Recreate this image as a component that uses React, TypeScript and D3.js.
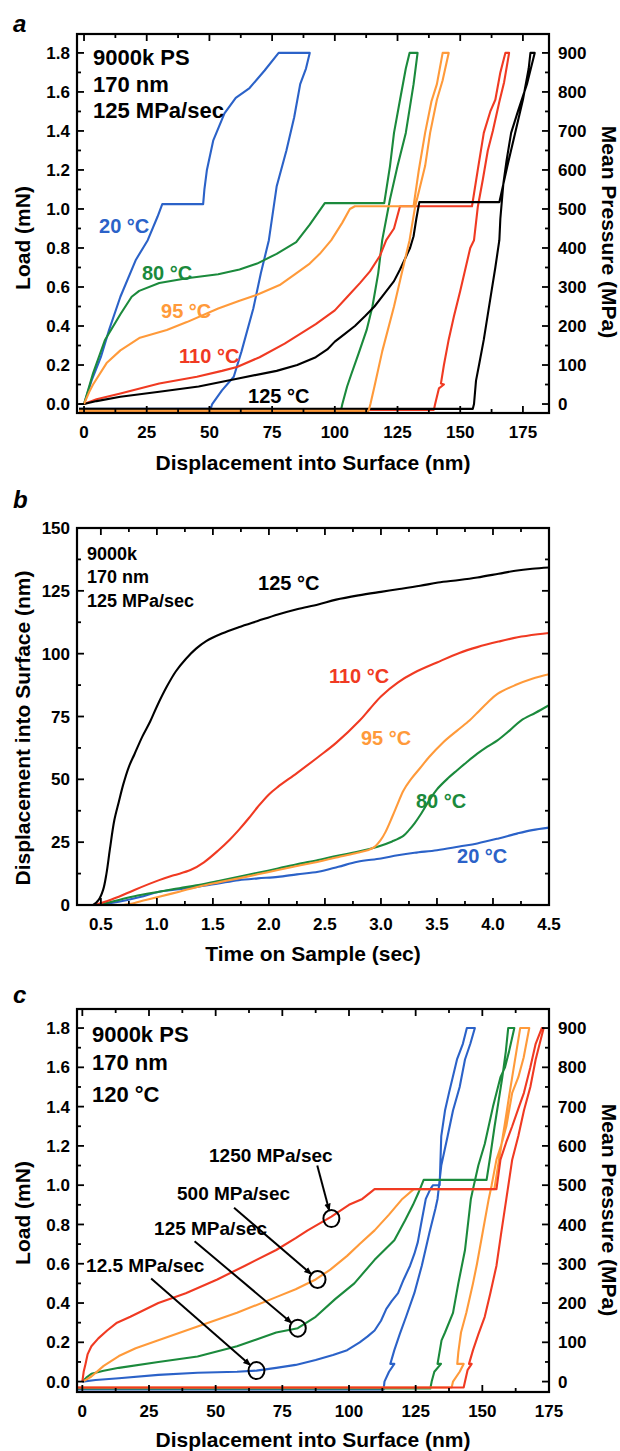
import React from 'react';
import * as d3 from 'd3';

type P = [number, number];

// ---------- Panel a: load (mN) vs displacement (nm), 125 MPa/sec ----------
const a20C: P[] = [[0,0],[3,0.12],[6.7,0.24],[10,0.38],[14.5,0.55],[20.7,0.74],[25.4,0.84],[29.3,0.96],[31.2,1.025],[47.5,1.025],[48,1.1],[49,1.2],[51.5,1.35],[56,1.49],[60.5,1.57],[66,1.62],[72,1.71],[77.6,1.8],[90,1.8],[88.5,1.72],[86.2,1.64],[83.8,1.47],[80.7,1.3],[76.8,1.115],[73.7,0.84],[70.5,0.67],[67.5,0.49],[62.8,0.27],[59.7,0.14],[55,0.07],[51.1,0],[50.5,-0.025],[-2,-0.025]];
const a80C: P[] = [[0,0],[3.6,0.157],[8.3,0.327],[14.5,0.46],[19,0.55],[22,0.58],[30,0.62],[41,0.645],[53.5,0.665],[62,0.69],[69,0.72],[76.8,0.77],[84.6,0.83],[90,0.92],[96,1.03],[119.7,1.03],[122,1.22],[123.6,1.39],[126,1.56],[128.3,1.72],[129.8,1.8],[133,1.8],[131.4,1.64],[128.3,1.39],[125,1.22],[122,1.05],[118.9,0.84],[117.3,0.67],[115,0.5],[112.7,0.38],[109.5,0.26],[106.5,0.15],[104.9,0.09],[103,0],[102.5,-0.03],[-2,-0.03]];
const a95C: P[] = [[0,0],[2,0.06],[3.6,0.1],[9,0.21],[14.5,0.275],[22.3,0.34],[33,0.38],[41,0.42],[53.5,0.49],[62,0.53],[69,0.56],[78,0.61],[84.6,0.67],[90,0.72],[94,0.77],[98.6,0.84],[103,0.93],[106,1.0],[108,1.014],[131.4,1.014],[133.5,1.2],[136,1.39],[138.5,1.55],[140.7,1.64],[143,1.8],[145.4,1.8],[143,1.66],[140.7,1.56],[138,1.39],[136,1.22],[132,1.01],[129.8,0.84],[126.5,0.66],[123.6,0.5],[118.9,0.27],[115.8,0.09],[114.2,0],[113.5,-0.035],[-2,-0.035]];
const a110C: P[] = [[0,0],[5,0.025],[14.5,0.054],[30,0.105],[45,0.14],[55,0.17],[61,0.19],[70,0.24],[80,0.31],[92.4,0.41],[100,0.48],[105,0.55],[110,0.62],[114,0.68],[118,0.76],[120.5,0.84],[123.6,0.9],[126,1.014],[154.7,1.014],[157,1.2],[159.4,1.39],[162,1.5],[164,1.56],[166,1.7],[168,1.8],[169.5,1.8],[167.5,1.65],[165.6,1.55],[163,1.4],[161,1.3],[159,1.15],[157,1.01],[155.5,0.84],[154,0.8],[150,0.58],[147.5,0.45],[145.4,0.33],[143.5,0.2],[142.3,0.105],[143.5,0.1],[141.5,0.08],[140,0],[139.5,-0.03],[-2,-0.03]];
const a125C: P[] = [[-2,0],[0,0],[5,0.015],[14.5,0.037],[30,0.063],[45.7,0.09],[61,0.13],[76.8,0.17],[85,0.2],[92.4,0.24],[97,0.28],[100,0.32],[104,0.36],[108,0.4],[112,0.45],[115.8,0.5],[120,0.57],[123.6,0.63],[126,0.69],[128.2,0.75],[130,0.8],[131.4,0.86],[132.5,0.95],[133.7,1.035],[165.6,1.035],[168.8,1.22],[171.9,1.39],[175,1.56],[177.3,1.72],[178,1.8],[179.7,1.8],[176.6,1.64],[173,1.5],[170.3,1.39],[168.5,1.25],[167.2,1.13],[166,0.95],[165.6,0.84],[164,0.7],[162.5,0.58],[159.4,0.33],[157.5,0.2],[156.3,0.12],[155.5,0],[155,-0.025],[-2,-0.025]];

const aXTicks = [0, 25, 50, 75, 100, 125, 150, 175];
const aYTicks = [0, 0.2, 0.4, 0.6, 0.8, 1.0, 1.2, 1.4, 1.6, 1.8];
const pressureTicks = [0, 100, 200, 300, 400, 500, 600, 700, 800, 900];

// ---------- Panel b: displacement (nm) vs time (s) ----------
const b125C: P[] = [[0.287,0],[0.43,0],[0.48,2],[0.52,6],[0.55,12.5],[0.58,22],[0.62,33.7],[0.66,41],[0.7,48],[0.75,55],[0.8,60],[0.87,67],[0.94,73],[1.0,79],[1.09,87],[1.17,93],[1.26,98],[1.35,102],[1.44,105],[1.58,108],[1.73,110.5],[1.9,113],[2.08,115.6],[2.25,117.7],[2.44,119.6],[2.6,121.5],[2.8,123.2],[3.0,124.6],[3.15,125.6],[3.35,127],[3.51,128.3],[3.7,129.3],[3.86,130.3],[4.05,131.8],[4.2,133],[4.35,133.8],[4.5,134.3]];
const b110C: P[] = [[0.45,0],[0.55,1.5],[0.66,3.3],[0.8,6],[1.02,9.9],[1.15,11.8],[1.3,13.9],[1.42,17],[1.55,21.8],[1.65,26],[1.73,29.8],[1.82,34.5],[1.9,39],[2.0,44],[2.08,47],[2.25,52.5],[2.44,58.9],[2.6,64.5],[2.81,73.4],[2.9,78],[3.0,83],[3.15,88.5],[3.3,92.5],[3.5,96.5],[3.7,100.3],[3.86,102.6],[4.05,104.8],[4.22,106.5],[4.4,107.7],[4.5,108.2]];
const b95C: P[] = [[0.7,0],[0.77,0.5],[0.9,2],[1.02,3.3],[1.2,5.3],[1.37,7.3],[1.55,9],[1.73,10.6],[1.9,12.2],[2.08,13.9],[2.25,15.5],[2.44,17.2],[2.6,18.9],[2.79,20.8],[2.88,21.8],[2.94,23],[3.0,26],[3.04,29],[3.1,35],[3.15,40.3],[3.2,45.5],[3.26,49.6],[3.35,54.5],[3.43,58.9],[3.55,64.5],[3.68,69.4],[3.79,73.4],[3.86,76.5],[3.95,80.5],[4.04,84],[4.2,87.5],[4.35,90],[4.5,91.8]];
const b80C: P[] = [[0.48,0],[0.55,0.8],[0.66,2],[0.8,3.5],[1.02,5.3],[1.2,6.7],[1.37,7.9],[1.55,9.5],[1.73,11.2],[1.9,12.8],[2.08,14.5],[2.25,16.2],[2.44,17.9],[2.6,19.5],[2.79,21.2],[2.97,23.2],[3.1,25.3],[3.2,27.5],[3.25,29.8],[3.3,32.5],[3.36,36.4],[3.43,41.5],[3.5,46],[3.6,50.5],[3.68,53.6],[3.77,57],[3.86,60.2],[3.95,63],[4.04,65.5],[4.15,69.5],[4.25,73.4],[4.38,76.5],[4.5,79.5]];
const b20C: P[] = [[0.45,0],[0.55,0.5],[0.66,1.3],[0.85,3.2],[1.02,5.3],[1.2,6.3],[1.37,7.3],[1.55,8.6],[1.73,9.9],[1.9,10.6],[2.08,11.2],[2.25,12.2],[2.44,13.2],[2.62,15.2],[2.79,17.2],[3.0,18.5],[3.15,19.8],[3.3,20.8],[3.5,21.8],[3.7,23.3],[3.86,24.5],[4.05,26.5],[4.22,28.5],[4.35,29.8],[4.5,30.8]];

const bXTicks = [0.5, 1.0, 1.5, 2.0, 2.5, 3.0, 3.5, 4.0, 4.5];
const bYTicks = [0, 25, 50, 75, 100, 125, 150];

// ---------- Panel c: load (mN) vs displacement (nm), 120 °C ----------
const c1250: P[] = [[0,0],[0.5,0.05],[1.2,0.09],[2,0.14],[3.4,0.18],[6,0.22],[9.3,0.26],[13,0.3],[18,0.33],[28.5,0.4],[38.8,0.45],[50.6,0.52],[61,0.59],[72.7,0.67],[80,0.73],[84.5,0.77],[93.4,0.84],[100,0.9],[105,0.93],[109.6,0.98],[155.3,0.98],[156.8,1.13],[159,1.22],[161.2,1.3],[163.5,1.39],[165.6,1.47],[168,1.6],[170,1.72],[172.3,1.8],[173,1.8],[171.5,1.72],[170,1.64],[168,1.5],[165.6,1.38],[163.5,1.25],[161.2,1.13],[159,0.93],[157,0.75],[155.3,0.59],[153,0.45],[150.9,0.33],[148.5,0.24],[146.5,0.16],[145,0.09],[146,0.09],[144.5,0.06],[143.5,0],[143,-0.03],[-2,-0.03]];
const c500: P[] = [[0,0],[1.5,0.01],[3.4,0.026],[8,0.08],[13.7,0.13],[20,0.17],[28.5,0.21],[43.2,0.28],[58,0.35],[72.7,0.43],[80,0.47],[87.5,0.52],[93,0.57],[99.3,0.64],[104,0.7],[109.6,0.77],[115,0.85],[120,0.93],[124.3,0.98],[154.5,0.98],[156.5,1.15],[158.3,1.3],[160,1.45],[161.2,1.55],[163,1.7],[164.2,1.8],[167.6,1.8],[165.5,1.65],[163.5,1.55],[161.2,1.47],[159,1.3],[157,1.2],[155.3,1.13],[153.5,1.0],[152.4,0.93],[150,0.75],[148,0.6],[146.5,0.5],[144,0.35],[142,0.25],[141,0.15],[140.6,0.09],[143,0.09],[141.5,0.05],[139,0],[138.5,-0.03],[-2,-0.03]];
const c125: P[] = [[0,0],[1.5,0.02],[3.4,0.04],[8,0.055],[13.7,0.07],[28.5,0.1],[43.2,0.128],[58,0.18],[72.7,0.25],[80.8,0.272],[87.5,0.33],[94.8,0.42],[102,0.5],[109.6,0.62],[117,0.72],[121,0.82],[124,0.9],[126,0.96],[128,1.027],[151.6,1.027],[153,1.15],[154.6,1.3],[156,1.42],[157.5,1.55],[158.8,1.68],[159.7,1.8],[162,1.8],[160,1.68],[158.5,1.6],[156.8,1.55],[154,1.4],[150.9,1.21],[148.5,1.1],[146.5,0.98],[145.7,0.93],[143.5,0.67],[141,0.5],[139,0.35],[136,0.25],[134.7,0.21],[133.2,0.09],[134.5,0.09],[132,0.05],[131,0],[130.5,-0.035],[-2,-0.035]];
const c12_5: P[] = [[0,0],[5,0.008],[13.7,0.017],[28.5,0.034],[43.2,0.045],[58,0.05],[65.3,0.056],[72.7,0.07],[80,0.085],[87.5,0.11],[94,0.135],[99.3,0.16],[104,0.2],[107,0.23],[109.6,0.26],[112,0.31],[114,0.37],[116,0.41],[118.4,0.45],[120.5,0.52],[122.9,0.59],[124.5,0.65],[125.8,0.71],[127,0.8],[128.8,0.93],[130.5,0.98],[131.5,1.0],[134,1.0],[134.6,1.25],[136,1.38],[137.5,1.47],[140.5,1.64],[142.7,1.72],[144.2,1.8],[147.2,1.8],[145.5,1.72],[143.5,1.64],[141.5,1.5],[139,1.38],[137,1.25],[134.6,1.1],[133.2,0.93],[132.4,0.88],[130.2,0.76],[127.3,0.59],[124.5,0.45],[121.4,0.33],[119,0.24],[117,0.16],[115.5,0.09],[117,0.09],[115,0.05],[113.3,0],[113,-0.04],[-2,-0.04]];

const cXTicks = [0, 25, 50, 75, 100, 125, 150, 175];

// annotation circles (data coords) and arrow start points
const cCircles: P[] = [[93.4, 0.83], [88.2, 0.52], [80.8, 0.272], [65.3, 0.056]];
const cArrowStarts: P[] = [[88.1, 1.1], [56.9, 0.885], [42.1, 0.715], [25.8, 0.525]];

const BLUE = '#2b62c8';
const GREEN = '#1b8a3c';
const ORANGE = '#ff9a3a';
const RED = '#f03a22';
const BLACK = '#000000';

const FONT = "'Liberation Sans', Arial, Helvetica, sans-serif";
const TICK_FS = 17;
const TITLE_FS = 21;

interface Series { data: P[]; color: string }
interface TextItem { text: string; at: P; color?: string; size?: number }

interface PanelProps {
  letter: string;
  letterY: number;
  top: number;
  bottom: number;
  xDomain: [number, number];
  yDomain: [number, number];
  xTicks: number[];
  xMinorStep: number;
  xFmt: (v: number) => string;
  yTicks: number[];
  yMinorStep: number;
  yFmt: (v: number) => string;
  rightTicks?: number[];
  rightFactor?: number;
  smooth?: boolean;
  series: Series[];
  texts: TextItem[];
  xTitle: string;
  xTitleY: number;
  yTitle: string;
  yTitleCenter: number;
  rightTitle?: string;
  rightTitleCenter?: number;
  children?: (x: d3.ScaleLinear<number, number>, y: d3.ScaleLinear<number, number>) => React.ReactNode;
}

const LEFT = 77;
const RIGHT = 549;

function minors(majors: number[], step: number, dom: [number, number]): number[] {
  const out: number[] = [];
  const lo = Math.min(...majors) - step;
  const hi = Math.max(...majors) + step;
  for (let v = lo; v <= hi + 1e-9; v += step) {
    const isMajor = majors.some((m) => Math.abs(m - v) < 1e-6);
    if (!isMajor && v > dom[0] && v < dom[1]) out.push(v);
  }
  return out;
}

function Panel(p: PanelProps) {
  const x = d3.scaleLinear().domain(p.xDomain).range([LEFT, RIGHT]);
  const y = d3.scaleLinear().domain(p.yDomain).range([p.bottom, p.top]);
  const line = d3.line<P>().x((d) => x(d[0])).y((d) => y(d[1]))
    .curve(p.smooth ? d3.curveCatmullRom.alpha(0.5) : d3.curveLinear);
  const xMin = minors(p.xTicks, p.xMinorStep, p.xDomain);
  const yMin = minors(p.yTicks, p.yMinorStep, p.yDomain);
  const MAJ = 7, MIN = 4;
  const tickSW = 1.8;
  const xTickLabelY = p.bottom + 25;
  const midX = (LEFT + RIGHT) / 2;
  return (
    <g>
      <clipPath id={'clip-' + p.letter}>
        <rect x={LEFT} y={p.top} width={RIGHT - LEFT} height={p.bottom - p.top} />
      </clipPath>
      <text x={13} y={p.letterY} fontFamily={FONT} fontWeight="bold" fontStyle="italic" fontSize={24}>{p.letter}</text>
      <g clipPath={`url(#clip-${p.letter})`}>
        {p.series.map((s, i) => (
          <path key={i} d={line(s.data) || ''} fill="none" stroke={s.color} strokeWidth={2.1} strokeLinejoin="round" />
        ))}
      </g>
      <rect x={LEFT} y={p.top} width={RIGHT - LEFT} height={p.bottom - p.top} fill="none" stroke="#000" strokeWidth={2.2} />
      {p.xTicks.map((v) => (
        <g key={'xt' + v}>
          <line x1={x(v)} x2={x(v)} y1={p.bottom} y2={p.bottom - MAJ} stroke="#000" strokeWidth={tickSW} />
          <line x1={x(v)} x2={x(v)} y1={p.top} y2={p.top + MAJ} stroke="#000" strokeWidth={tickSW} />
          <text x={x(v)} y={xTickLabelY} textAnchor="middle" fontFamily={FONT} fontWeight="bold" fontSize={TICK_FS}>{p.xFmt(v)}</text>
        </g>
      ))}
      {xMin.map((v) => (
        <g key={'xm' + v}>
          <line x1={x(v)} x2={x(v)} y1={p.bottom} y2={p.bottom - MIN} stroke="#000" strokeWidth={tickSW} />
          <line x1={x(v)} x2={x(v)} y1={p.top} y2={p.top + MIN} stroke="#000" strokeWidth={tickSW} />
        </g>
      ))}
      {p.yTicks.map((v) => (
        <g key={'yt' + v}>
          <line x1={LEFT} x2={LEFT + MAJ} y1={y(v)} y2={y(v)} stroke="#000" strokeWidth={tickSW} />
          <line x1={RIGHT} x2={RIGHT - MAJ} y1={y(v)} y2={y(v)} stroke="#000" strokeWidth={tickSW} />
          <text x={LEFT - 7} y={y(v)} dy="0.36em" textAnchor="end" fontFamily={FONT} fontWeight="bold" fontSize={TICK_FS}>{p.yFmt(v)}</text>
        </g>
      ))}
      {yMin.map((v) => (
        <g key={'ym' + v}>
          <line x1={LEFT} x2={LEFT + MIN} y1={y(v)} y2={y(v)} stroke="#000" strokeWidth={tickSW} />
          <line x1={RIGHT} x2={RIGHT - MIN} y1={y(v)} y2={y(v)} stroke="#000" strokeWidth={tickSW} />
        </g>
      ))}
      {p.rightTicks && p.rightTicks.map((v) => (
        <text key={'rt' + v} x={RIGHT + 9} y={y(v / (p.rightFactor || 1))} dy="0.36em" textAnchor="start" fontFamily={FONT} fontWeight="bold" fontSize={TICK_FS}>{v}</text>
      ))}
      <text x={midX} y={p.xTitleY} textAnchor="middle" fontFamily={FONT} fontWeight="bold" fontSize={TITLE_FS}>{p.xTitle}</text>
      <text transform={`translate(22,${p.yTitleCenter}) rotate(-90)`} textAnchor="middle" dominantBaseline="central" fontFamily={FONT} fontWeight="bold" fontSize={TITLE_FS}>{p.yTitle}</text>
      {p.rightTitle && (
        <text transform={`translate(609,${p.rightTitleCenter}) rotate(90)`} textAnchor="middle" dominantBaseline="central" fontFamily={FONT} fontWeight="bold" fontSize={TITLE_FS}>{p.rightTitle}</text>
      )}
      {p.texts.map((t, i) => (
        <text key={'tx' + i} x={x(t.at[0])} y={y(t.at[1])} fill={t.color || '#000'} fontFamily={FONT} fontWeight="bold" fontSize={t.size || 20}>{t.text}</text>
      ))}
      {p.children && p.children(x, y)}
    </g>
  );
}

const f1 = d3.format('.1f');
const f0 = (v: number) => String(v);

export default function App() {
  return (
    <div style={{ position: 'absolute', left: 0, top: 0, width: 620, height: 1451, background: '#fff' }}>
      <svg width={620} height={1451} viewBox="0 0 620 1451" style={{ display: 'block' }}>
        <defs>
          <marker id="arrowHead" viewBox="0 0 10 10" refX="9" refY="5" markerWidth="8" markerHeight="8" orient="auto" markerUnits="userSpaceOnUse">
            <path d="M0,1 L10,5 L0,9 z" fill="#000" />
          </marker>
        </defs>
        <rect width={620} height={1451} fill="#fff" />
        <Panel
          letter="a" letterY={32} top={34} bottom={413}
          xDomain={[-2.8, 185.4]} yDomain={[-0.046, 1.897]}
          xTicks={aXTicks} xMinorStep={12.5} xFmt={f0}
          yTicks={aYTicks} yMinorStep={0.1} yFmt={f1}
          rightTicks={pressureTicks} rightFactor={500}
          series={[
            { data: a20C, color: BLUE },
            { data: a80C, color: GREEN },
            { data: a110C, color: RED },
            { data: a125C, color: BLACK },
            { data: a95C, color: ORANGE },
          ]}
          texts={[
            { text: '9000k PS', at: [3.6, 1.738], size: 22 },
            { text: '170 nm', at: [3.6, 1.6], size: 22 },
            { text: '125 MPa/sec', at: [3.6, 1.466], size: 22 },
            { text: '20 °C', at: [6.0, 0.877], color: BLUE },
            { text: '80 °C', at: [23.1, 0.636], color: GREEN },
            { text: '95 °C', at: [30.7, 0.441], color: ORANGE },
            { text: '110 °C', at: [37.9, 0.21], color: RED },
            { text: '125 °C', at: [65.4, 0.005], color: BLACK },
          ]}
          xTitle="Displacement into Surface (nm)" xTitleY={470}
          yTitle="Load (mN)" yTitleCenter={238}
          rightTitle="Mean Pressure (MPa)" rightTitleCenter={232}
        />
        <Panel
          letter="b" letterY={508} top={528} bottom={905}
          xDomain={[0.287, 4.5]} yDomain={[0, 150]}
          xTicks={bXTicks} xMinorStep={0.25} xFmt={f1}
          yTicks={bYTicks} yMinorStep={12.5} yFmt={f0}
          smooth={true}
          series={[
            { data: b20C, color: BLUE },
            { data: b80C, color: GREEN },
            { data: b95C, color: ORANGE },
            { data: b110C, color: RED },
            { data: b125C, color: BLACK },
          ]}
          texts={[
            { text: '9000k', at: [0.376, 137.3], size: 18 },
            { text: '170 nm', at: [0.376, 128.1], size: 18 },
            { text: '125 MPa/sec', at: [0.376, 118.6], size: 18 },
            { text: '125 °C', at: [1.903, 125.3], color: BLACK },
            { text: '110 °C', at: [2.536, 88.3], color: RED },
            { text: '95 °C', at: [2.822, 63.7], color: ORANGE },
            { text: '80 °C', at: [3.313, 38.6], color: GREEN },
            { text: '20 °C', at: [3.679, 16.7], color: BLUE },
          ]}
          xTitle="Time on Sample (sec)" xTitleY={961}
          yTitle="Displacement into Surface (nm)" yTitleCenter={728}
        />
        <Panel
          letter="c" letterY={1003} top={1009} bottom={1392}
          xDomain={[-2, 175]} yDomain={[-0.053, 1.897]}
          xTicks={cXTicks} xMinorStep={12.5} xFmt={f0}
          yTicks={aYTicks} yMinorStep={0.1} yFmt={f1}
          rightTicks={pressureTicks} rightFactor={500}
          series={[
            { data: c12_5, color: BLUE },
            { data: c125, color: GREEN },
            { data: c500, color: ORANGE },
            { data: c1250, color: RED },
          ]}
          texts={[
            { text: '9000k PS', at: [3.6, 1.729], size: 22 },
            { text: '170 nm', at: [3.6, 1.586], size: 22 },
            { text: '120 °C', at: [3.6, 1.423], size: 22 },
            { text: '1250 MPa/sec', at: [47.5, 1.118], size: 19 },
            { text: '500 MPa/sec', at: [35.5, 0.924], size: 19 },
            { text: '125 MPa/sec', at: [26.9, 0.746], size: 19 },
            { text: '12.5 MPa/sec', at: [1.4, 0.558], size: 19 },
          ]}
          xTitle="Displacement into Surface (nm)" xTitleY={1447}
          yTitle="Load (mN)" yTitleCenter={1213}
          rightTitle="Mean Pressure (MPa)" rightTitleCenter={1210}
        >
          {(x, y) => (
            <g>
              {cCircles.map((c, i) => {
                const cx = x(c[0]), cy = y(c[1]);
                const sx = x(cArrowStarts[i][0]), sy = y(cArrowStarts[i][1]);
                const dx = cx - sx, dy = cy - sy;
                const len = Math.hypot(dx, dy);
                const r = 8;
                const ex = cx - (dx / len) * r, ey = cy - (dy / len) * r;
                return (
                  <g key={'ann' + i}>
                    <line x1={sx} y1={sy} x2={ex} y2={ey} stroke="#000" strokeWidth={2} markerEnd="url(#arrowHead)" />
                    <ellipse cx={cx} cy={cy} rx={8} ry={8.5} fill="none" stroke="#000" strokeWidth={2} />
                  </g>
                );
              })}
            </g>
          )}
        </Panel>
      </svg>
    </div>
  );
}
